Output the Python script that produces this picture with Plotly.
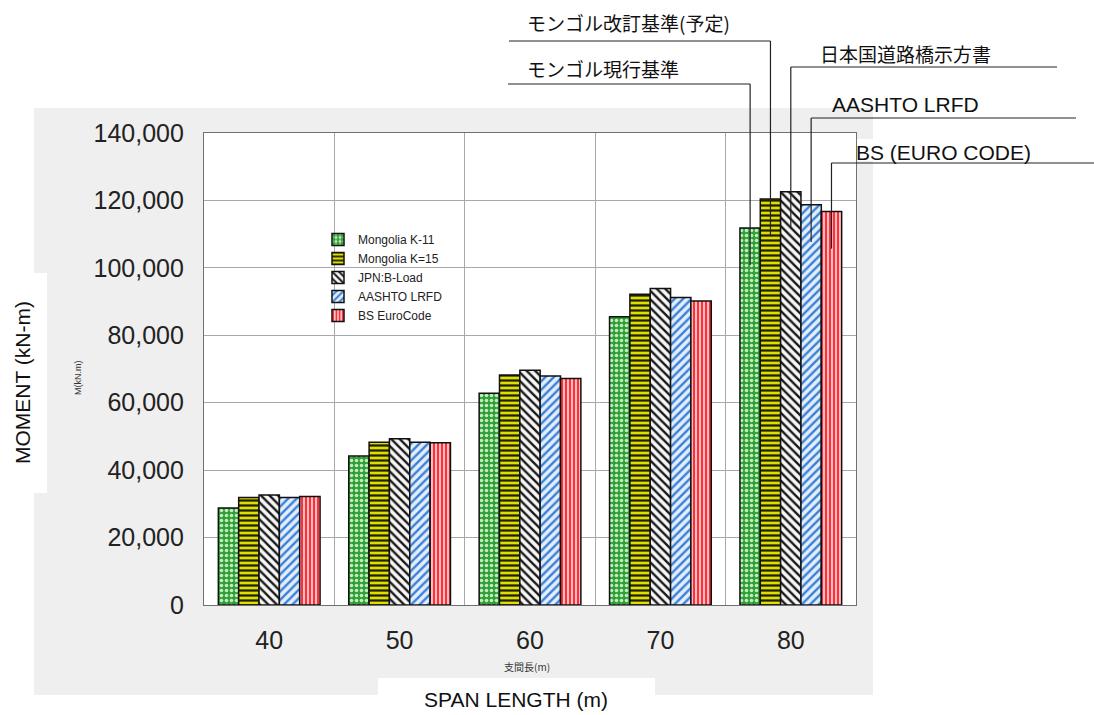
import plotly.graph_objects as go

# ---------------- data ----------------
spans = [40, 50, 60, 70, 80]
span_labels = ["40", "50", "60", "70", "80"]
mongolia_k11 = [28800, 44200, 62800, 85500, 111800]
mongolia_k15 = [31900, 48300, 68200, 92200, 120400]
jpn_b_load = [32600, 49300, 69600, 93900, 122600]
aashto_lrfd = [31900, 48300, 67900, 91200, 118700]
bs_eurocode = [32200, 48100, 67200, 90200, 116700]
series_names = ["Mongolia K-11", "Mongolia K=15", "JPN:B-Load", "AASHTO LRFD", "BS EuroCode"]
y_ticks = [0, 20000, 40000, 60000, 80000, 100000, 120000, 140000]
callout_texts = ["モンゴル現行基準", "モンゴル改訂基準(予定)", "日本国道路橋示方書",
                 "AASHTO LRFD", "BS (EURO CODE)"]

series_values = [mongolia_k11, mongolia_k15, jpn_b_load, aashto_lrfd, bs_eurocode]

# ---------------- styles ----------------
W, H = 1094, 715
PL, PR, PT, PB = 204, 856, 133, 605   # plot area in px


def px(x):
    return (x - PL) / (PR - PL)


def py(y):
    return (PB - y) / (PB - PT)


styles = [
    dict(shape=".", bg="#2f9f38", fg="#c4ecbc", size=5, sol=0.4),
    dict(shape="-", bg="#dede00", fg="#1e1e00", size=5, sol=0.45),
    dict(shape="\\", bg="#f6f6f6", fg="#1a1a1a", size=6, sol=0.4),
    dict(shape="/", bg="#e4eefa", fg="#3a80d8", size=6, sol=0.4),
    dict(shape="|", bg="#ffe2e2", fg="#ff2f3a", size=4, sol=0.6),
]

XMIN, XMAX = 35, 85
YMAX = 140000
BARGAP = 0.22

fig = go.Figure()
for name, vals, st in zip(series_names, series_values, styles):
    fig.add_trace(go.Bar(
        x=spans, y=vals, name=name,
        marker=dict(
            color=st["bg"],
            line=dict(color="#111111", width=1.5),
            pattern=dict(shape=st["shape"], bgcolor=st["bg"], fgcolor=st["fg"],
                         size=st["size"], solidity=st["sol"], fillmode="replace"),
        ),
        hoverinfo="skip",
    ))

# boundaries between span groups for vertical grid
bounds = [(a + b) / 2 for a, b in zip(spans[:-1], spans[1:])]


def white_box(x0, x1, y0, y1):
    return dict(type="rect", xref="paper", yref="paper", x0=px(x0), x1=px(x1), y0=py(y1), y1=py(y0),
                fillcolor="#ffffff", line=dict(width=0), layer="below")


shapes = [
    # gray background panel
    dict(type="rect", xref="paper", yref="paper", x0=px(34), x1=px(873), y0=py(695), y1=py(108),
         fillcolor="#efefef", line=dict(width=0), layer="below"),
    # white plot area
    dict(type="rect", xref="paper", yref="paper", x0=0, x1=1, y0=0, y1=1,
         fillcolor="#ffffff", line=dict(width=0), layer="below"),
    white_box(-5, 47, 273, 493),     # behind y title
    white_box(378, 655, 678, 720),   # behind x title
    white_box(852, 1040, 139, 161),  # behind BS label
]

# callouts (leader lines) pointing to the 80 m group
n = len(series_names)
bar_w = (spans[1] - spans[0]) * (1 - BARGAP) / n
last = spans[-1]
# (text x px, text y px, leader y px, far end x px)
callout_layout = [
    (525, 68, 84, 508),
    (525, 22, 41, 509),
    (818, 53, 67, 1057),
    (830, 105, 118, 1076),
    (854, 152, 163, 1094),
]
annotations = []
for i, (txt, lay) in enumerate(zip(callout_texts, callout_layout)):
    tx, ty, ly, fx = lay
    bx = last + (i - (n - 1) / 2) * bar_w
    bx_paper = (bx - XMIN) / (XMAX - XMIN)
    yend = (series_values[i][-1] - 11000) / YMAX
    shapes.append(dict(type="line", xref="paper", yref="paper",
                       x0=px(fx), x1=bx_paper, y0=py(ly), y1=py(ly),
                       line=dict(color="#222222", width=1.2), layer="above"))
    shapes.append(dict(type="line", xref="x", yref="paper",
                       x0=bx, x1=bx, y0=py(ly), y1=yend,
                       line=dict(color="#222222", width=1.2), layer="above"))
    is_jp = any(ord(c) > 255 for c in txt)
    annotations.append(dict(
        text=txt, xref="paper", yref="paper", x=px(tx), y=py(ty),
        xanchor="left", yanchor="middle", showarrow=False,
        font=dict(family="Noto Sans CJK JP" if is_jp else "Liberation Sans, Arial",
                  size=19 if is_jp else 21, color="#111111"),
    ))

annotations += [
    dict(text="MOMENT (kN-m)", xref="paper", yref="paper", x=px(22), y=py(383),
         textangle=-90, showarrow=False, xanchor="center", yanchor="middle",
         font=dict(family="Liberation Sans, Arial", size=21, color="#111111")),
    dict(text="SPAN LENGTH (m)", xref="paper", yref="paper", x=px(516), y=py(699),
         showarrow=False, xanchor="center", yanchor="middle",
         font=dict(family="Liberation Sans, Arial", size=21, color="#111111")),
    dict(text="M(kN.m)", xref="paper", yref="paper", x=px(78), y=py(378),
         textangle=-90, showarrow=False, xanchor="center", yanchor="middle",
         font=dict(family="Liberation Sans, Arial", size=9, color="#333333")),
    dict(text="支間長(m)", xref="paper", yref="paper", x=px(527), y=py(666),
         showarrow=False, xanchor="center", yanchor="middle",
         font=dict(family="Noto Sans CJK JP", size=10, color="#333333")),
]

fig.update_layout(
    width=W, height=H,
    margin=dict(l=PL, r=W - PR, t=PT, b=H - PB, pad=0),
    paper_bgcolor="#ffffff", plot_bgcolor="#ffffff",
    barmode="group", bargap=BARGAP, bargroupgap=0,
    showlegend=True,
    legend=dict(x=px(318), y=py(225), xanchor="left", yanchor="top",
                bgcolor="rgba(0,0,0,0)", borderwidth=0,
                font=dict(family="Liberation Sans, Arial", size=12, color="#222222"),
                itemwidth=30, tracegroupgap=0),
    shapes=shapes,
    annotations=annotations,
    xaxis=dict(range=[XMIN, XMAX], tickmode="array", tickvals=spans, ticktext=span_labels,
               showgrid=False, zeroline=False, ticks="",
               minor=dict(tickvals=bounds, showgrid=True, gridcolor="#a8a8a8", gridwidth=1, ticks=""),
               showline=True, mirror=True, linecolor="#707070", linewidth=1.2,
               tickfont=dict(family="Liberation Sans, Arial", size=25, color="#222222"),
               ticklabelstandoff=13, fixedrange=True),
    yaxis=dict(range=[0, YMAX], tickmode="array", tickvals=y_ticks, tickformat=",",
               showgrid=True, gridcolor="#a8a8a8", gridwidth=1, zeroline=False, ticks="",
               showline=True, mirror=True, linecolor="#707070", linewidth=1.2,
               tickfont=dict(family="Liberation Sans, Arial", size=25, color="#222222"),
               ticklabelstandoff=14, fixedrange=True),
)

fig.write_html("out.html", config={"displayModeBar": False},
               post_script="document.body.style.margin='0px';")
